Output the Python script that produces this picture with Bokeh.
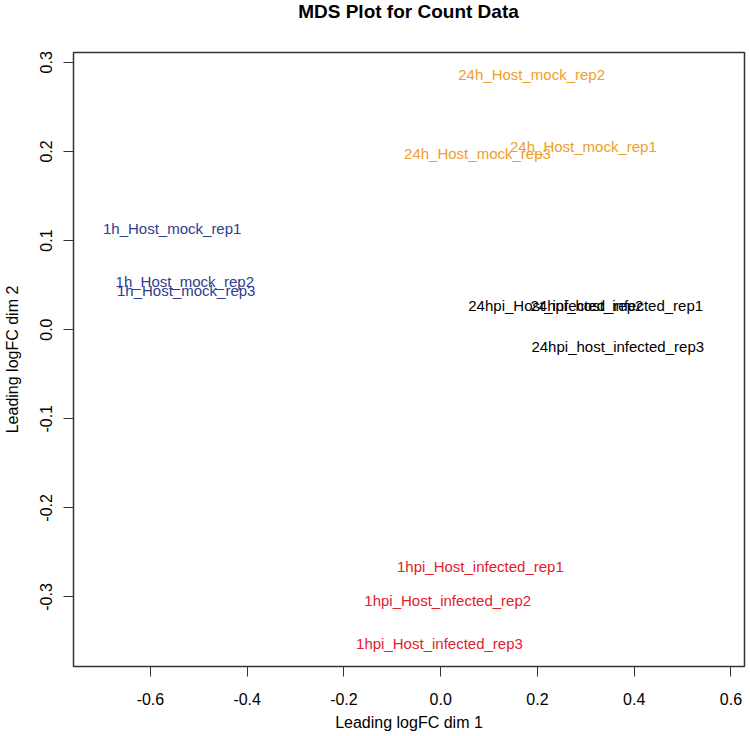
from bokeh.plotting import figure
from bokeh.models import Range1d, FixedTicker, CustomJSTickFormatter, ColumnDataSource, Div
from bokeh.layouts import column
from bokeh.core.properties import value
from bokeh.embed import file_html
from bokeh.resources import INLINE

# ---- data ----
sample_labels = [
    "1h_Host_mock_rep1", "1h_Host_mock_rep2", "1h_Host_mock_rep3",
    "24h_Host_mock_rep1", "24h_Host_mock_rep2", "24h_Host_mock_rep3",
    "1hpi_Host_infected_rep1", "1hpi_Host_infected_rep2", "1hpi_Host_infected_rep3",
    "24hpi_host_infected_rep1", "24hpi_Host_infected_rep2", "24hpi_host_infected_rep3",
]
dim1 = [-0.555, -0.529, -0.526,
        0.295, 0.188, 0.076,
        0.082, 0.0145, -0.0025,
        0.364, 0.238, 0.366]
dim2 = [0.114, 0.054, 0.0435,
        0.2056, 0.286, 0.198,
        -0.266, -0.304, -0.352,
        0.0266, 0.0266, -0.019]
group_colors = ["#2E3D8C"] * 3 + ["#EE9E2A"] * 3 + ["#E3202B"] * 3 + ["#000000"] * 3
x_ticks = [-0.6, -0.4, -0.2, 0.0, 0.2, 0.4, 0.6]
y_ticks = [-0.3, -0.2, -0.1, 0.0, 0.1, 0.2, 0.3]
title_text = "MDS Plot for Count Data"

FONT = "Liberation Sans"
X0, X1, Y0, Y1 = -0.759, 0.628, -0.378, 0.311

src = ColumnDataSource(dict(x=dim1, y=dim2, label=sample_labels, color=group_colors))

p = figure(width=748, height=709, output_backend="svg", toolbar_location=None,
           x_range=Range1d(X0, X1), y_range=Range1d(Y0, Y1),
           min_border_left=73, min_border_right=4, min_border_top=28, min_border_bottom=63)

p.grid.visible = False
p.outline_line_color = "#333333"
p.outline_line_width = 1.5
p.background_fill_color = "white"
p.border_fill_color = "white"

for ax, ticks in ((p.xaxis[0], x_ticks), (p.yaxis[0], y_ticks)):
    ax.ticker = FixedTicker(ticks=ticks)
    ax.formatter = CustomJSTickFormatter(code="return tick.toFixed(1);")
    ax.axis_line_color = None
    ax.major_tick_in = 0
    ax.major_tick_out = 10
    ax.major_tick_line_color = "#333333"
    ax.minor_tick_line_color = None
    ax.major_label_text_font = FONT
    ax.major_label_text_font_size = "16px"
    ax.major_label_text_color = "#000000"
    ax.axis_label_text_font = FONT
    ax.axis_label_text_font_size = "16px"
    ax.axis_label_text_font_style = "normal"
    ax.axis_label_text_color = "#000000"

p.xaxis.axis_label = "Leading logFC dim 1"
p.yaxis.axis_label = "Leading logFC dim 2"
p.yaxis.major_label_orientation = "vertical"
p.xaxis.major_label_standoff = 16
p.yaxis.major_label_standoff = 11
p.xaxis.axis_label_standoff = 6
p.yaxis.axis_label_standoff = 17

p.text(x="x", y="y", text="label", source=src, text_color="color",
       text_align="center", text_baseline="middle",
       text_font=value(FONT), text_font_size="15px")

title_div = Div(text=title_text, width=671, height=24, margin=(0, 0, 0, 73),
                styles={"text-align": "center", "font-family": FONT,
                        "font-size": "19px", "font-weight": "bold",
                        "line-height": "24px", "color": "#000000",
                        "width": "671px"})

layout = column(title_div, p, spacing=0)

open("out.html", "w").write(file_html(layout, INLINE))
